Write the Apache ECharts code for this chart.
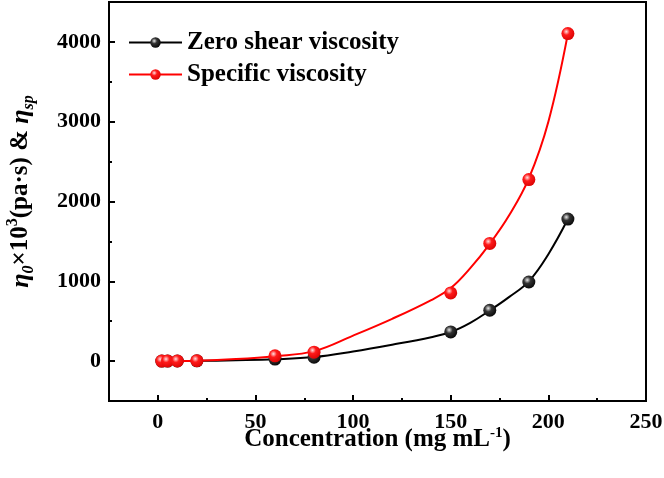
<!DOCTYPE html>
<html>
<head>
<meta charset="utf-8">
<script src="https://cdn.jsdelivr.net/npm/echarts@6/dist/echarts.min.js"></script>
<style>html,body{margin:0;padding:0;background:#fff}#c{width:664px;height:478px}</style>
</head>
<body>
<div id="c"></div>
<script>
// Measured points
var concentration = [2, 5, 10, 20, 60, 80, 150, 170, 190, 210];
var zeroShear = [0, 0, 1, 3, 25, 48, 366, 637, 991, 1780];
var specific = [0, 1, 2, 5, 66, 112, 854, 1475, 2275, 4104];
// Fitted curves
var fitX = [0, 20, 40, 60, 80, 100, 120, 140, 150, 160, 170, 180, 190, 200, 210];
var zeroFit = [0, 3, 10, 22, 50, 120, 205, 300, 365, 480, 635, 805, 1000, 1340, 1780];
var specFit = [0, 5, 25, 62, 125, 320, 530, 765, 915, 1165, 1470, 1830, 2290, 3000, 4104];
// Ticks
var xMajor = [0, 50, 100, 150, 200, 250];
var xMinor = [25, 75, 125, 175, 225];
var yMajor = [0, 1000, 2000, 3000, 4000];
var yMinor = [500, 1500, 2500, 3500];

function zip(a, b) { return a.map(function (v, i) { return [v, b[i]]; }); }
var FONT = '"Liberation Serif","Times New Roman",serif';

function sphere(c0, c1, c2) {
  return {
    type: 'radial', x: 0.38, y: 0.35, r: 0.75,
    colorStops: [{offset: 0, color: c0}, {offset: 0.35, color: c1}, {offset: 1, color: c2}]
  };
}
var blackBall = sphere('#e8e8e8', '#333', '#000');
var redBall = sphere('#ffe0e0', '#ff1a1a', '#d40000');
function plain(v) { return String(v); }

var chart = echarts.init(document.getElementById('c'), null, {renderer: 'canvas'});
var baseX = {
  type: 'value', min: -25, max: 250, gridIndex: 0, position: 'bottom',
  axisLine: {show: true, onZero: false, lineStyle: {color: '#000', width: 2}},
  splitLine: {show: false}
};
var baseY = {
  type: 'value', min: -500, max: 4500, gridIndex: 0, position: 'left',
  axisLine: {show: true, onZero: false, lineStyle: {color: '#000', width: 2}},
  splitLine: {show: false}
};
chart.setOption({
  animation: false,
  backgroundColor: '#fff',
  grid: {left: 109, right: 18, top: 2, bottom: 77, show: true, borderColor: '#000', borderWidth: 2,
         containLabel: false, outerBoundsMode: 'none'},
  legend: {
    orient: 'vertical', left: 123, top: 25, itemWidth: 53, itemHeight: 13, itemGap: 7,
    data: [
      {name: 'Zero shear viscosity', lineStyle: {color: '#000', width: 2, opacity: 1}},
      {name: 'Specific viscosity', lineStyle: {color: '#ff0000', width: 2, opacity: 1}}
    ],
    textStyle: {fontFamily: FONT, fontWeight: 'bold', fontSize: 25, color: '#000'}
  },
  xAxis: [
    Object.assign({}, baseX, {
      name: '{n|Concentration (mg mL}{sup|-1}{n|)}',
      nameLocation: 'middle', nameGap: 25, nameMoveOverlap: false,
      nameTextStyle: {
        rich: {
          n: {fontFamily: FONT, fontWeight: 'bold', fontSize: 25, color: '#000', lineHeight: 28},
          sup: {fontFamily: FONT, fontWeight: 'bold', fontSize: 15, color: '#000', verticalAlign: 'top', lineHeight: 15}
        }
      },
      axisTick: {show: true, inside: true, length: 6, lineStyle: {width: 2, color: '#000'}, customValues: xMajor},
      axisLabel: {show: true, margin: 10, customValues: xMajor, formatter: plain, fontFamily: FONT, fontWeight: 'bold', fontSize: 22, color: '#000'}
    }),
    Object.assign({}, baseX, {
      axisLine: {show: false, onZero: false},
      axisTick: {show: true, inside: true, length: 3, lineStyle: {width: 2, color: '#000'}, customValues: xMinor},
      axisLabel: {show: false}
    })
  ],
  yAxis: [
    Object.assign({}, baseY, {
      name: '{i|η}{isub|0}{n|×10}{sup|3}{n|(pa·s) & }{i|η}{isub|sp}',
      nameLocation: 'middle', nameGap: 72, nameMoveOverlap: false,
      nameTextStyle: {
        padding: [0, 0, 0, 20],
        rich: {
          n: {fontFamily: FONT, fontWeight: 'bold', fontSize: 25, color: '#000', lineHeight: 32},
          i: {fontFamily: FONT, fontStyle: 'italic', fontWeight: 'bold', fontSize: 26, color: '#000', lineHeight: 32},
          isub: {fontFamily: FONT, fontStyle: 'italic', fontWeight: 'bold', fontSize: 16, color: '#000', verticalAlign: 'bottom', lineHeight: 16},
          sup: {fontFamily: FONT, fontWeight: 'bold', fontSize: 16, color: '#000', verticalAlign: 'top', lineHeight: 16}
        }
      },
      axisTick: {show: true, inside: true, length: 6, lineStyle: {width: 2, color: '#000'}, customValues: yMajor},
      axisLabel: {show: true, margin: 8, customValues: yMajor, formatter: plain, fontFamily: FONT, fontWeight: 'bold', fontSize: 22, color: '#000'}
    }),
    Object.assign({}, baseY, {
      axisLine: {show: false, onZero: false},
      axisTick: {show: true, inside: true, length: 3, lineStyle: {width: 2, color: '#000'}, customValues: yMinor},
      axisLabel: {show: false}
    })
  ],
  series: [
    {name: 'fitZero', type: 'line', smooth: 0.4, showSymbol: false, silent: true,
     data: zip(fitX, zeroFit), lineStyle: {color: '#000', width: 2}, z: 2},
    {name: 'Zero shear viscosity', type: 'line', data: zip(concentration, zeroShear),
     symbol: 'circle', symbolSize: 13, lineStyle: {width: 0, opacity: 0},
     itemStyle: {color: blackBall}, z: 3},
    {name: 'fitSpec', type: 'line', smooth: 0.4, showSymbol: false, silent: true,
     data: zip(fitX, specFit), lineStyle: {color: '#ff0000', width: 2}, z: 4},
    {name: 'Specific viscosity', type: 'line', data: zip(concentration, specific),
     symbol: 'circle', symbolSize: 13, lineStyle: {width: 0, opacity: 0},
     itemStyle: {color: redBall}, z: 5}
  ]
});
</script>
</body>
</html>
